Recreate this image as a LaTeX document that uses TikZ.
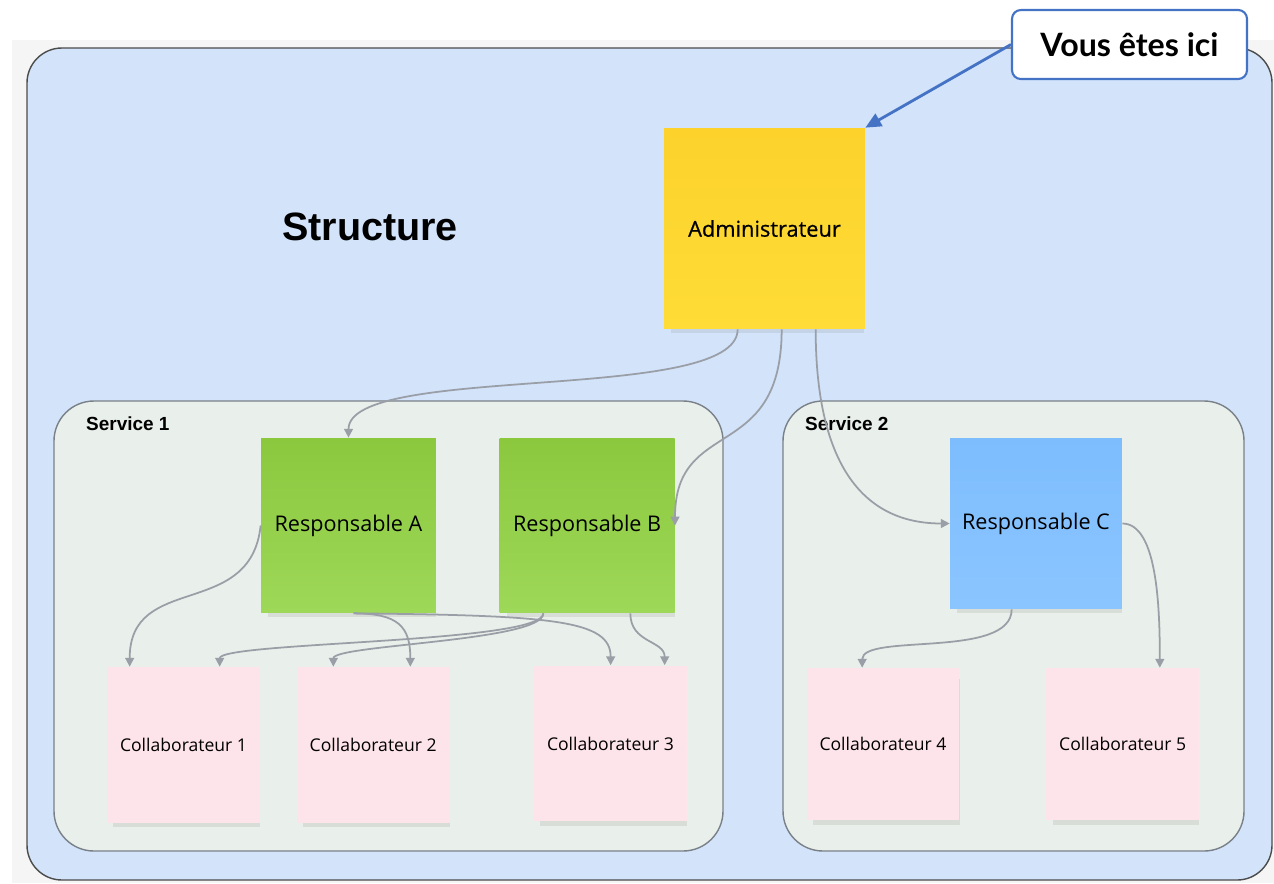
\documentclass[tikz,border=0pt]{standalone}
\usepackage{fontspec}
\setmainfont{Open Sans}
\newfontfamily\arialfont{Liberation Sans}
\newfontfamily\calloutfont{Lato}
\usetikzlibrary{arrows.meta,calc,positioning,shadows}
\definecolor{bandgray}{HTML}{F5F5F5}
\definecolor{structblue}{HTML}{D2E3FA}
\definecolor{servicegreen}{HTML}{E9EFEA}
\definecolor{serviceborder}{HTML}{7A8088}
\definecolor{linkgray}{HTML}{9A9EA6}
\definecolor{pointerblue}{HTML}{4472C4}
\definecolor{pinknote}{HTML}{FDE4EA}
\tikzstyle{note} = [rectangle, inner sep=0pt, align=center,
    drop shadow={shadow xshift=2pt, shadow yshift=-4.5pt, shadow scale=0.96, opacity=0.16}]
\tikzstyle{resp} = [note, minimum width=3.5cm, minimum height=3.5cm,
    font=\fontsize{12.3}{14}\selectfont]
\tikzstyle{collab} = [note, fill=pinknote, minimum width=3.06cm, minimum height=3.12cm,
    font=\fontsize{10}{12}\selectfont]
\tikzstyle{service} = [draw=serviceborder, line width=0.8pt, fill=servicegreen, rounded corners=0.8cm]
\tikzstyle{line} = [draw=linkgray, line width=1pt, -{Triangle[length=5pt,width=5pt]}]

\begin{document}
\begin{tikzpicture}[x=0.02cm,y=-0.02cm]
    \useasboundingbox (0,0) rectangle (1274,883);
    % Frame
    \fill[bandgray] (12,40) rectangle (1274,883);
    \draw[black!70, line width=0.8pt, fill=structblue, rounded corners=0.7cm] (27,48) rectangle (1272,880);
    \draw[service] (54,401) rectangle (723,851);
    \draw[service] (783,401) rectangle (1244,851);
    \node[font=\arialfont\bfseries\fontsize{22.5}{26}\selectfont] (title) at (370,227) {Structure};
    \node[anchor=west, font=\arialfont\bfseries\fontsize{10.8}{13}\selectfont] (svc1) at (80,424) {Service 1};
    \node[anchor=west, font=\arialfont\bfseries\fontsize{10.8}{13}\selectfont] (svc2) at (799,424) {Service 2};
    % Place nodes
    \node[note, minimum width=4.02cm, minimum height=4.02cm, top color={rgb,255:red,252;green,210;blue,43},
        bottom color={rgb,255:red,255;green,220;blue,55}, font=\fontsize{12.4}{14}\selectfont] (admin) at (764.5,228.5) {\addfontfeature{FakeBold=0.7}Administrateur};
    \node[resp, top color={rgb,255:red,139;green,200;blue,62}, bottom color={rgb,255:red,158;green,216;blue,88}] (respA) at (348.5,525.5) {Responsable A};
    \node[resp, top color={rgb,255:red,139;green,200;blue,62}, bottom color={rgb,255:red,158;green,216;blue,88}, right=1.26cm of respA] (respB) {Responsable B};
    \node[resp, minimum width=3.44cm, minimum height=3.42cm, top color={rgb,255:red,125;green,189;blue,254},
        bottom color={rgb,255:red,139;green,197;blue,255}] (respC) at (1036,523.5) {Responsable C};
    \node[collab] (c1) at (183.5,745) {Collaborateur 1};
    \node[collab, right=0.72cm of c1] (c2) {Collaborateur 2};
    \node[collab] (c3) at (610.5,743.5) {Collaborateur 3};
    \node[collab, minimum height=3.04cm] (c4) at (883,744) {Collaborateur 4};
    \node[collab, minimum height=3.04cm, right=1.72cm of c4] (c5) {Collaborateur 5};
    \node[draw=pointerblue, line width=1.2pt, fill=white, rounded corners=5pt, minimum width=4.7cm, minimum height=1.38cm,
        font=\calloutfont\bfseries\fontsize{18.3}{20}\selectfont] (here) at (1129.5,44.5) {Vous êtes ici};
    % Draw edges
    \draw[pointerblue, line width=1.6pt, -{Triangle[length=9pt,width=8pt]}] (here.west) -- (admin.north east);
    \path[line] ($(admin.south west)+(74,0)$) .. controls +(0,75) and +(0,-75) .. (respA.north);
    \path[line] ($(admin.south west)+(118,0)$) .. controls +(0,135) and +(0,-110) .. (respB.east);
    \path[line] ($(admin.south west)+(152,0)$) .. controls +(0,130) and +(-90,0) .. (respC.west);
    \path[line] (respA.west) .. controls +(-10,95) and +(0,-95) .. ($(c1.north west)+(23,0)$);
    \path[line] ($(respA.south)+(5,0)$) .. controls +(45,0) and +(0,-40) .. ($(c2.north west)+(114,0)$);
    \path[line] ($(respA.south)+(5,0)$) .. controls +(200,2) and +(0,-45) .. ($(c3.north west)+(77,0)$);
    \path[line] ($(respB.south west)+(44,0)$) .. controls +(0,30) and +(0,-25) .. ($(c1.north west)+(113,0)$);
    \path[line] ($(respB.south west)+(44,0)$) .. controls +(0,28) and +(0,-22) .. ($(c2.north west)+(37,0)$);
    \path[line] ($(respB.south west)+(131,0)$) .. controls +(0,30) and +(0,-25) .. ($(c3.north west)+(131,0)$);
    \path[line] ($(respC.south west)+(62,0)$) .. controls +(0,50) and +(0,-35) .. ($(c4.north west)+(56,0)$);
    \path[line] (respC.east) .. controls +(35,0) and +(0,-60) .. ($(c5.north west)+(114,0)$);
\end{tikzpicture}
\end{document}
